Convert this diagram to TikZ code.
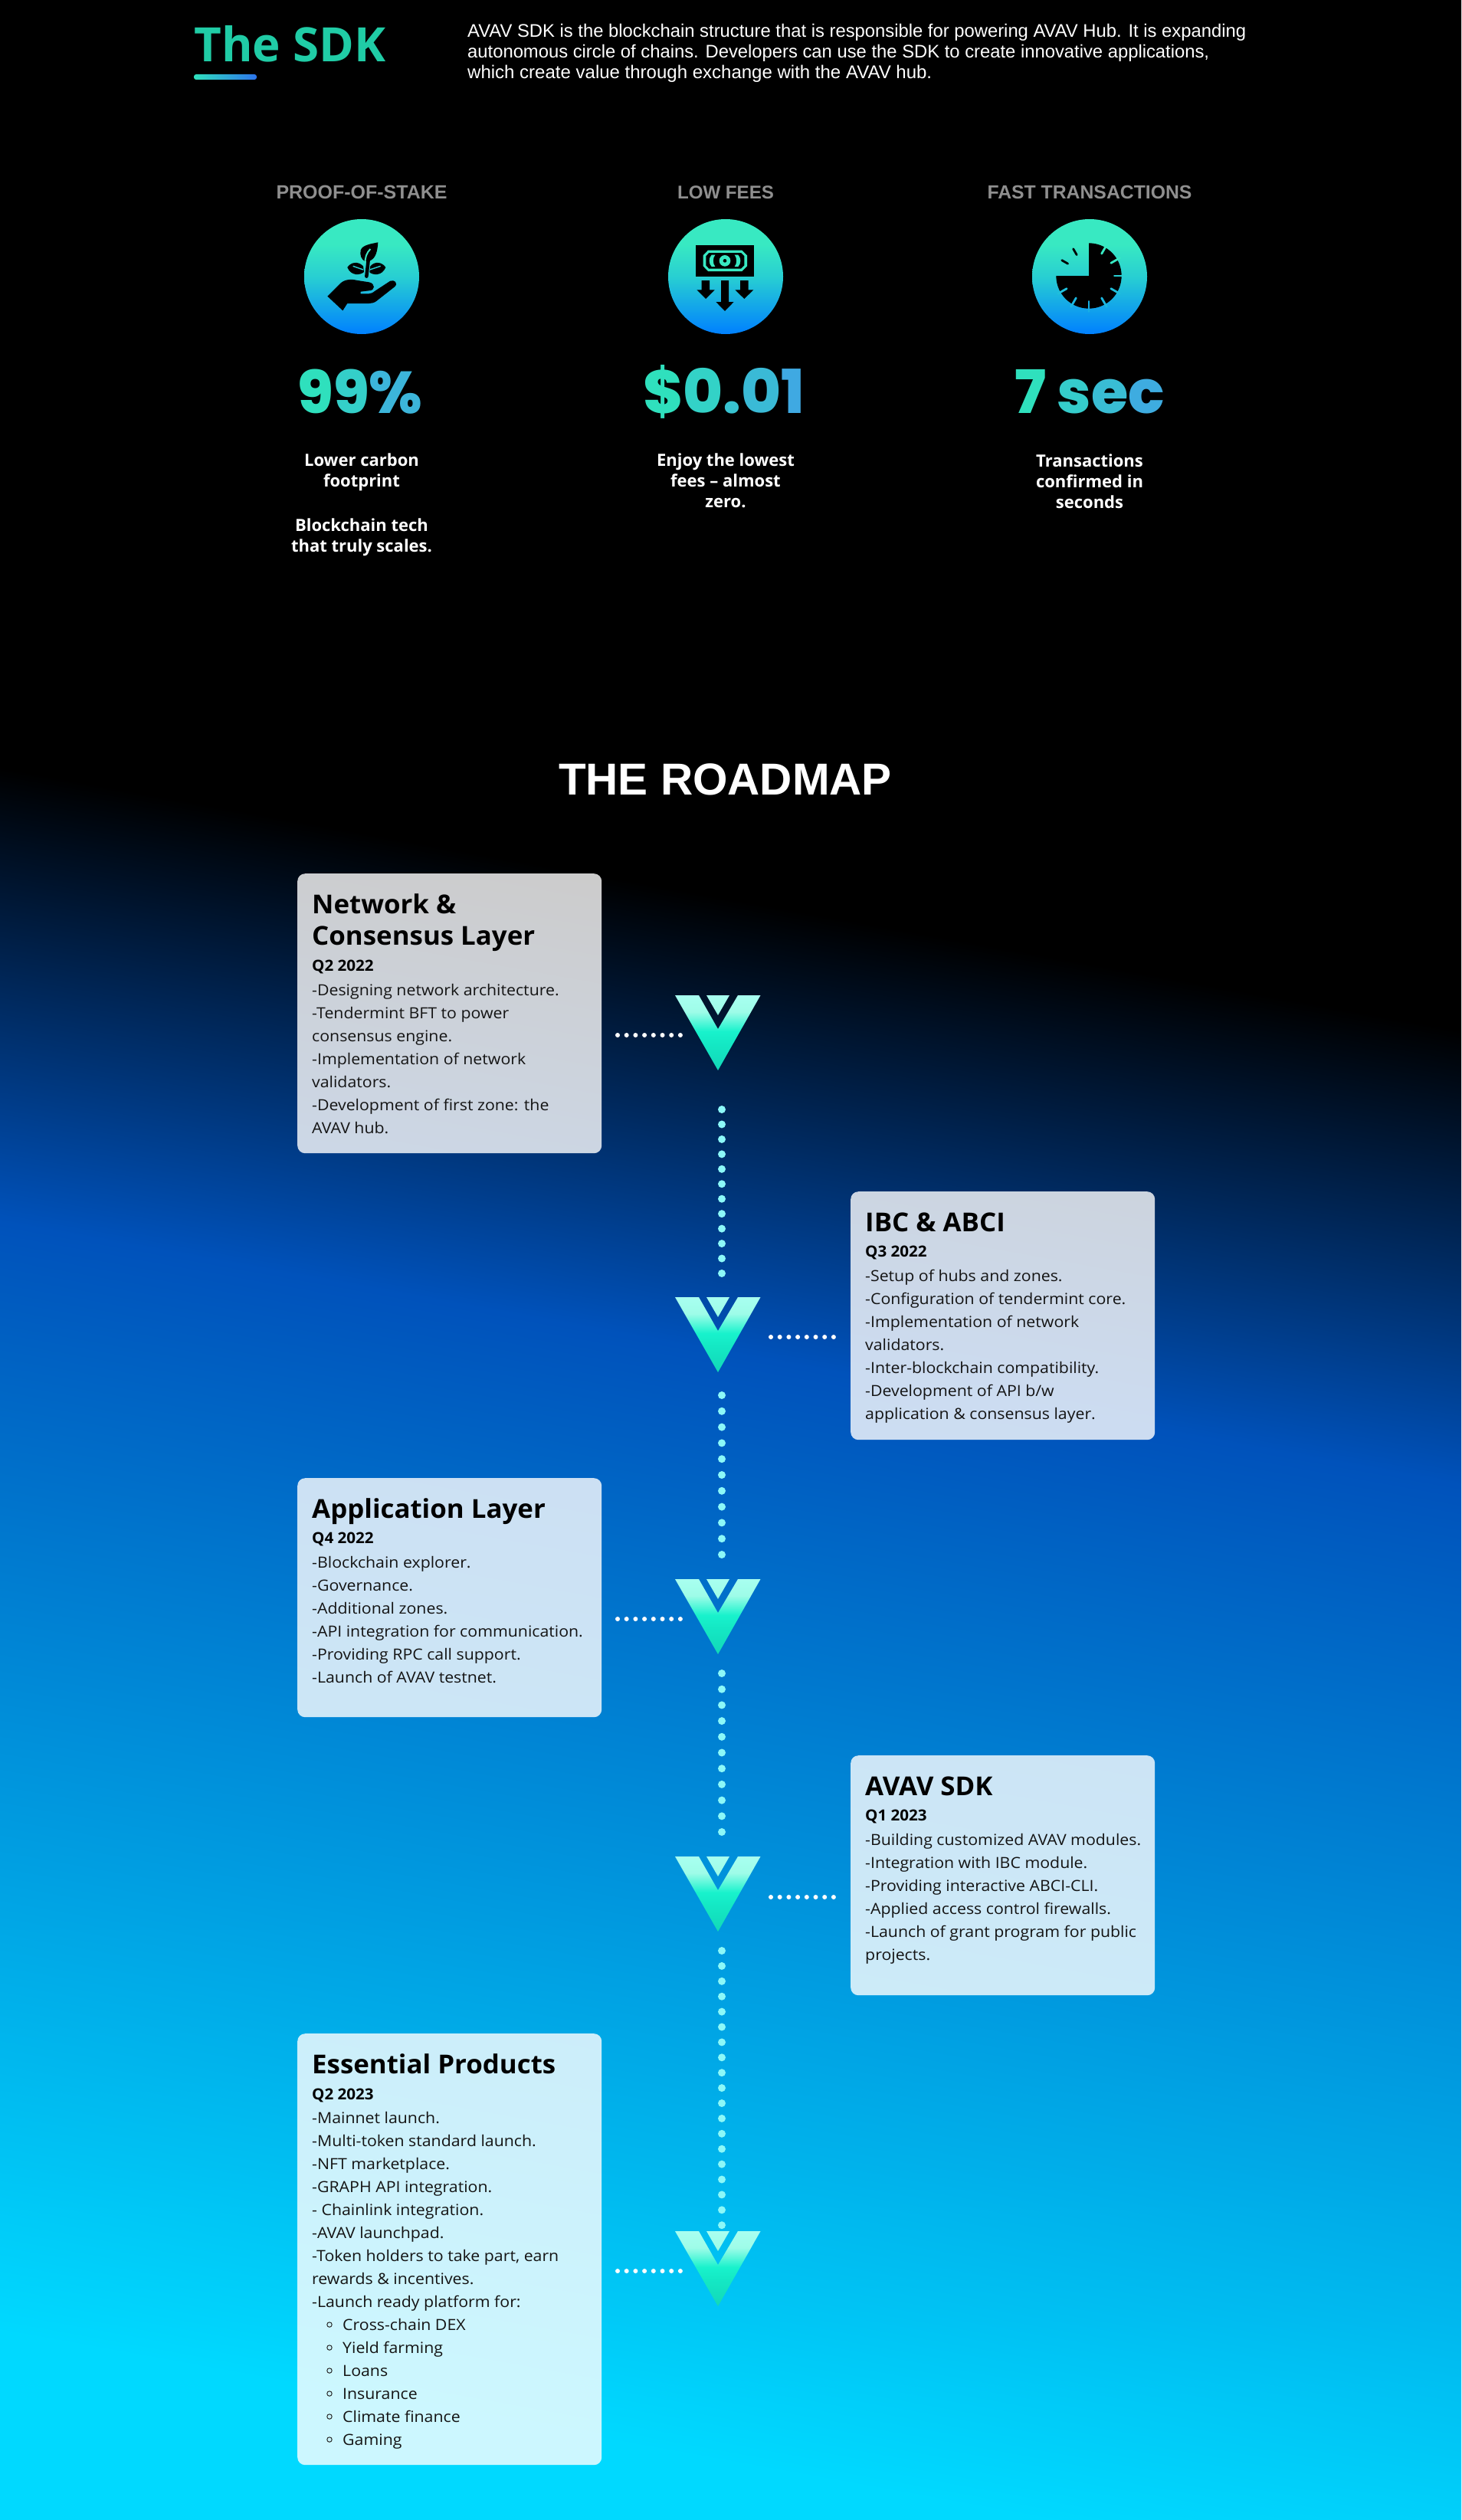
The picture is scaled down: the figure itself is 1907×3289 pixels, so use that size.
\documentclass[tikz,border=0pt]{standalone}
\usepackage{fontspec}
\setmainfont{Open Sans}
\newfontfamily\parf{Liberation Sans}
\newfontfamily\numf{Poppins ExtraBold}
\newfontfamily\bodyf[FakeStretch=1.065]{Open Sans}
\newfontfamily\qf[FakeStretch=1.03]{Open Sans}
\newfontfamily\titlef[FakeStretch=1.025]{Open Sans}
\usetikzlibrary{calc}
\definecolor{bgcy}{HTML}{00D9FF}
\definecolor{bgblue}{HTML}{0052BB}
\definecolor{gA}{HTML}{2FE0BD}
\definecolor{gB}{HTML}{40A6E4}
\definecolor{sdk}{HTML}{20CCA6}
\definecolor{vdot}{HTML}{8CF8F8}
\definecolor{ctop}{HTML}{38E9C2}
\definecolor{cmid}{HTML}{28CFD2}
\definecolor{cbot}{HTML}{0080FF}
\definecolor{ch1}{HTML}{A8FFF0}
\definecolor{ch2}{HTML}{9EFCE8}
\definecolor{ch3}{HTML}{18F2CC}
\definecolor{ch4}{HTML}{14E8C4}
\definecolor{ch5}{HTML}{12D8B8}
\definecolor{heading}{HTML}{8F8F8F}
% a path's box covers the central 25bp..75bp of a shading
\pgfdeclareverticalshading{bgshade}{100bp}{color(0bp)=(bgcy); color(30.6bp)=(bgcy); color(48.49bp)=(bgblue); color(55.82bp)=(black); color(100bp)=(black)}
\pgfdeclareverticalshading{circshade}{100bp}{color(0bp)=(cbot); color(25bp)=(cbot); color(50bp)=(cmid); color(64bp)=(ctop); color(100bp)=(ctop)}
\pgfdeclareverticalshading{chevshade}{100bp}{color(0bp)=(ch5); color(25bp)=(ch5); color(42.5bp)=(ch4); color(51bp)=(ch3); color(64bp)=(ch2); color(75bp)=(ch1); color(100bp)=(ch1)}
\tikzset{
  card/.style={anchor=north west,inner sep=0pt,minimum width=397pt,fill=white,fill opacity=.8,rounded corners=10pt},
  bodytxt/.style={anchor=base west,inner sep=0pt,text=black!92,font=\bodyf\fontsize{20}{30}\selectfont},
  qtxt/.style={anchor=base west,inner sep=0pt,text=black,font=\qf\bfseries\fontsize{20}{30}\selectfont},
  titletxt/.style={anchor=base west,inner sep=0pt,text=black,font=\titlef\bfseries\fontsize{34}{43}\selectfont},
  paratxt/.style={anchor=base west,inner sep=0pt,text=white,font=\parf\fontsize{23}{28}\selectfont},
  headtxt/.style={anchor=base,inner sep=0pt,text=heading,font=\parf\bfseries\fontsize{24}{28}\selectfont},
  desctxt/.style={anchor=base,inner sep=0pt,text=white,font=\bfseries\fontsize{22}{27}\selectfont},
  numtxt/.style={anchor=base,inner sep=0pt,font=\numf\fontsize{76}{80}\selectfont},
  hdots/.style={white,line width=6pt,line cap=round,dash pattern=on 0pt off 11.7pt},
  vdots/.style={vdot,line width=10pt,line cap=round},
  statcirc/.style={shading=circshade},
}
\newcommand\fitw[2]{\resizebox{#1pt}{!}{#2}}
\newcommand\gc[2]{\textcolor{gA!#1!gB}{#2}}
\newcommand\cardlines[4]{\foreach \ltxt [count=\li from 0] in {#4} {\node[bodytxt] (#1\li) at (#2,{#3+30*\li}) {\ltxt};}}
\newcommand\desclines[3]{\foreach \ltxt/\ly [count=\li] in {#3} {\node[desctxt] (#1\li) at (#2,\ly) {\ltxt};}}
\newcommand\chevron[2]{\coordinate (#1) at (937,#2);
  \begin{scope}[shift={(937,#2)}]
  \shade[shading=chevshade] (-56,0) -- (-25,0) -- (0,44) -- (26,0) -- (55.5,0) -- (0,98) -- cycle (-15,0) -- (15,0) -- (0,26) -- cycle;
  \end{scope}}
\begin{document}
\begin{tikzpicture}[x=1pt,y=-1pt]
\useasboundingbox (0,0) rectangle (1907,3289);
\fill[black] (0,0) rectangle (1907,3289);
% background gradient: a square, so that the turned shading stays true to its angle
\begin{scope}
\clip (0,0) rectangle (1907,3289);
\shade[shading=bgshade,shading angle=-10.2] (-1046.5,-355.5) rectangle (2953.5,3644.5);
\end{scope}
% header
\node[anchor=base west,inner sep=0pt,text=sdk,font=\bfseries\fontsize{56}{60}\selectfont] (sdktitle) at (253,81) {\fitw{250}{The SDK}};
\shade[left color=gA,right color=gB!70!blue,rounded corners=3pt] (253,97) rectangle (335,104);
\node[paratxt] (para1) at (610,49) {\fitw{1016}{AVAV SDK is the blockchain structure that is responsible for powering AVAV Hub. It is expanding}};
\node[paratxt] (para2) at (610,76) {\fitw{968}{autonomous circle of chains. Developers can use the SDK to create innovative applications,}};
\node[paratxt] (para3) at (610,103) {\fitw{606}{which create value through exchange with the AVAV hub.}};
% stats headings
\node[headtxt] (h1) at (472,259) {\fitw{223}{PROOF-OF-STAKE}};
\node[headtxt] (h2) at (947,259) {\fitw{126}{LOW FEES}};
\node[headtxt] (h3) at (1422,259) {\fitw{267}{FAST TRANSACTIONS}};
\shade[statcirc] (472,361) circle (75pt);
\shade[statcirc] (947,361) circle (75pt);
\shade[statcirc] (1422,361) circle (75pt);
% icon 1: hand and plant
\begin{scope}[shift={(370,270)},scale=1/3]
\fill[black] (172,350) -- (222,300) .. controls (240,283) and (265,282) .. (290,288) -- (335,295) .. controls (360,300) and (360,328) .. (335,328) -- (302,332) -- (302,340) -- (335,340) .. controls (345,340) and (350,335) .. (360,328) -- (418,290) .. controls (435,283) and (450,300) .. (435,313) -- (365,368) .. controls (355,376) and (345,378) .. (335,378) -- (250,378) -- (232,406) -- cycle;
\fill[black] (370,139) .. controls (368,175) and (360,205) .. (335,212) -- (318,213) .. controls (305,205) and (298,190) .. (302,170) .. controls (308,150) and (340,145) .. (370,139) -- cycle;
\fill[black] (250,237) .. controls (262,218) and (290,210) .. (312,232) -- (315,255) .. controls (300,268) and (265,272) .. (250,237) -- cycle;
\fill[black] (400,237) .. controls (388,218) and (360,210) .. (340,232) -- (335,255) .. controls (350,268) and (385,272) .. (400,237) -- cycle;
\draw[ctop,line width=2pt] (340,165) .. controls (325,180) and (318,200) .. (320,225);
\draw[cmid,line width=1.4pt] (272,232) -- (312,246);
\draw[cmid,line width=1.4pt] (380,232) -- (338,246);
\draw[cmid,line width=7pt] (330,218) -- (326,262);
\draw[black,line width=4.5pt,line cap=round] (333,200) -- (325,272);
\end{scope}
% icon 2: banknote and arrows
\begin{scope}[shift={(850,270)},scale=1/3]
\fill[black] (175,150) rectangle (402,272);
\fill[ctop] (222,170) -- (355,170) -- (375,190) -- (375,232) -- (355,252) -- (222,252) -- (203,232) -- (203,190) -- cycle;
\fill[black] (226,180) -- (351,180) -- (364,193) -- (364,229) -- (351,242) -- (226,242) -- (214,229) -- (214,193) -- cycle;
\fill[ctop] (236,188) .. controls (224,200) and (224,222) .. (236,234) -- (250,234) .. controls (240,222) and (240,200) .. (250,188) -- cycle;
\fill[ctop] (340,188) .. controls (352,200) and (352,222) .. (340,234) -- (326,234) .. controls (336,222) and (336,200) .. (326,188) -- cycle;
\fill[ctop] (288,211) circle (22pt);
\fill[black] (288,211) circle (7pt);
\fill[black] (197,288) -- (228,288) -- (228,325) -- (248,325) -- (213,360) -- (178,325) -- (197,325) -- cycle;
\fill[black] (273,288) -- (303,288) -- (303,372) -- (323,372) -- (288,408) -- (253,372) -- (273,372) -- cycle;
\fill[black] (348,288) -- (380,288) -- (380,325) -- (400,325) -- (364,360) -- (328,325) -- (348,325) -- cycle;
\end{scope}
% icon 3: clock
\begin{scope}[shift={(1320,270)},scale=1/3]
\fill[black] (303,270) -- plot[domain=-90:180,samples=91] ({303+128*cos(\x)},{270+128*sin(\x)}) -- cycle;
\foreach \a/\c in {-60/ctop,-30/ctop,0/cmid,30/cmid!80!cbot,60/cmid!70!cbot,90/cmid!60!cbot,120/cmid!70!cbot,150/cmid!80!cbot}
  {\draw[\c,line width=2.8pt,line cap=round] ($(303,270)+({100*cos(\a)},{100*sin(\a)})$) -- ($(303,270)+({140*cos(\a)},{140*sin(\a)})$);}
\foreach \a in {-120,-150}
  {\draw[black,line width=2.8pt,line cap=round] ($(303,270)+({95*cos(\a)},{95*sin(\a)})$) -- ($(303,270)+({122*cos(\a)},{122*sin(\a)})$);}
\end{scope}
% numbers
\node[numtxt] (n1) at (470,539.5) {\fitw{163}{\gc{100}{9}\gc{70}{9}\gc{25}{\%}}};
\node[numtxt] (n2) at (944.5,539.5) {\fitw{211}{\gc{100}{\$}\gc{75}{0}\gc{50}{.}\gc{35}{0}\gc{5}{1}}};
\node[numtxt] (n3) at (1422,539.5) {\fitw{196}{\gc{100}{7}\ \gc{65}{s}\gc{40}{e}\gc{10}{c}}};
% descriptions
\desclines{da}{472}{Lower carbon/608,footprint/635,Blockchain tech/693,that truly scales./720}
\desclines{db}{947}{Enjoy the lowest/608,fees – almost/635,zero./662}
\desclines{dc}{1422}{Transactions/609,confirmed in/636,seconds/663}
% roadmap title
\node[anchor=base,inner sep=0pt,text=white,font=\parf\bfseries\fontsize{56}{60}\selectfont] (roadmap) at (946.5,1037) {\fitw{435}{THE ROADMAP}};
% cards
\node[card,minimum height=365pt] (card1) at (388,1140) {};
\node[card,minimum height=324pt] (card2) at (1110,1555) {};
\node[card,minimum height=312pt] (card3) at (388,1929) {};
\node[card,minimum height=313pt] (card4) at (1110,2291) {};
\node[card,minimum height=563pt] (card5) at (388,2654) {};
% timeline
\coordinate (h1a) at (806,1351); \coordinate (h1b) at (888.5,1351);
\coordinate (h2a) at (1006,1745); \coordinate (h2b) at (1088.5,1745);
\coordinate (h3a) at (806,2113); \coordinate (h3b) at (888.5,2113);
\coordinate (h4a) at (1006,2476); \coordinate (h4b) at (1088.5,2476);
\coordinate (h5a) at (806,2964); \coordinate (h5b) at (888.5,2964);
\foreach \n in {1,...,5} {\draw[hdots] (h\n a) -- (h\n b);}
\coordinate (v1a) at (942,1448); \coordinate (v1b) at (942,1662.5);
\coordinate (v2a) at (942,1821); \coordinate (v2b) at (942,2029.5);
\coordinate (v3a) at (942,2184); \coordinate (v3b) at (942,2391.5);
\coordinate (v4a) at (942,2546); \coordinate (v4b) at (942,2904.5);
\draw[vdots,dash pattern=on 0pt off 19.45pt] (v1a) -- (v1b);
\draw[vdots,dash pattern=on 0pt off 20.8pt] (v2a) -- (v2b);
\draw[vdots,dash pattern=on 0pt off 20.7pt] (v3a) -- (v3b);
\draw[vdots,dash pattern=on 0pt off 19.9pt] (v4a) -- (v4b);
\chevron{ch-a}{1299}
\chevron{ch-b}{1693}
\chevron{ch-c}{2061}
\chevron{ch-d}{2423}
\chevron{ch-e}{2912}
% card 1
\node[titletxt] (t1a) at (407,1192) {Network \&};
\node[titletxt] (t1b) at (407,1233) {Consensus Layer};
\node[qtxt] (q1) at (407,1267) {Q2 2022};
\cardlines{ca}{407}{1299}{-Designing network architecture.,-Tendermint BFT to power,consensus engine.,-Implementation of network,validators.,-Development of first zone: the,AVAV hub.}
% card 2
\node[titletxt] (t2) at (1129,1607) {IBC \& ABCI};
\node[qtxt] (q2) at (1129,1640) {Q3 2022};
\cardlines{cb}{1129}{1672}{-Setup of hubs and zones.,-Configuration of tendermint core.,-Implementation of network,validators.,-Inter-blockchain compatibility.,-Development of API b/w,application \& consensus layer.}
% card 3
\node[titletxt] (t3) at (407,1981) {Application Layer};
\node[qtxt] (q3) at (407,2014) {Q4 2022};
\cardlines{cc}{407}{2046}{-Blockchain explorer.,-Governance.,-Additional zones.,-API integration for communication.,-Providing RPC call support.,-Launch of AVAV testnet.}
% card 4
\node[titletxt] (t4) at (1129,2343) {AVAV SDK};
\node[qtxt] (q4) at (1129,2376) {Q1 2023};
\cardlines{cd}{1129}{2408}{-Building customized AVAV modules.,-Integration with IBC module.,-Providing interactive ABCI-CLI.,-Applied access control firewalls.,-Launch of grant program for public,projects.}
% card 5
\node[titletxt] (t5) at (407,2706) {Essential Products};
\node[qtxt] (q5) at (407,2740) {Q2 2023};
\cardlines{ce}{407}{2771}{-Mainnet launch.,-Multi-token standard launch.,-NFT marketplace.,-GRAPH API integration.,- Chainlink integration.,-AVAV launchpad.,{-Token holders to take part, earn},rewards \& incentives.,-Launch ready platform for:}
\cardlines{cf}{447}{3041}{Cross-chain DEX,Yield farming,Loans,Insurance,Climate finance,Gaming}
\foreach \ly in {3034,3064,3094,3124,3154,3184} {\draw[black!85,line width=1pt] (430,\ly) circle (3.2pt);}
\end{tikzpicture}
\end{document}
